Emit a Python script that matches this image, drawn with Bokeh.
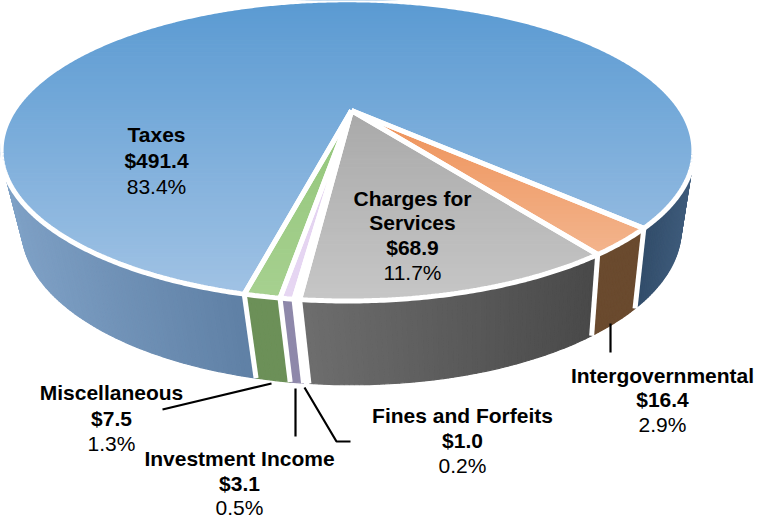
import numpy as np
from bokeh.plotting import figure
from bokeh.models import Range1d
from bokeh.core.properties import value
from bokeh.embed import file_html
from bokeh.resources import INLINE

categories = ["Intergovernmental", "Charges for Services", "Fines and Forfeits",
              "Investment Income", "Miscellaneous", "Taxes"]
amounts = ["$16.4", "$68.9", "$1.0", "$3.1", "$7.5", "$491.4"]
percents = [2.9, 11.7, 0.2, 0.5, 1.3, 83.4]

top_colors = [("#ee9158", "#f3b48c"), ("#a9a9a9", "#c6c6c6"), ("#ffffff", "#ffffff"),
              ("#e2d0f0", "#e6d6f2"), ("#93c67a", "#a6d08f"), ("#5a9ad2", "#a0c2e4")]
rim_colors = [("#6a4a2e", "#6a4a2e"), ("#494949", "#6e6e6e"), ("#ffffff", "#ffffff"),
              ("#8e88aa", "#8e88aa"), ("#6c9058", "#6c9058"), ("#5f80a5", "#7fa1c6")]
rim_right = ("#3f5c7c", "#314c69")

label_x = [662, 412, 462, 239, 111, 156]
label_y = [[375, 399, 424], [198, 222, 247, 272], [415, 440, 465],
           [458, 483, 507], [392, 418, 443], [134, 160, 186]]
label_lines = [["Intergovernmental"], ["Charges for", "Services"], ["Fines and Forfeits"],
               ["Investment Income"], ["Miscellaneous"], ["Taxes"]]
leader_x = [[610, 610], [162, 271], [295, 295], [304, 336, 350]]
leader_y = [[323, 352], [409, 383], [388, 436], [387, 441, 441]]

K = 0.265
START = 43.5
def proj(theta, f, g, ax, ay):
    t = np.radians(theta)
    w = 1 - K * np.sin(t)
    return ax + f * np.cos(t) / w, ay + g * np.sin(t) / w
def top(theta):
    return proj(theta, 334, 140, 347, 110)
def bottom(theta):
    return proj(theta - 0.4, 318, 145, 351, 187)

def hexmix(c1, c2, t):
    a = [int(c1[i:i + 2], 16) for i in (1, 3, 5)]
    b = [int(c2[i:i + 2], 16) for i in (1, 3, 5)]
    return "#%02x%02x%02x" % tuple(int(round(a[i] + (b[i] - a[i]) * t)) for i in range(3))

def clip(poly, y0, keep_below):
    out = []
    n = len(poly)
    for i in range(n):
        a, b = poly[i], poly[(i + 1) % n]
        ia = (a[1] >= y0) if keep_below else (a[1] <= y0)
        ib = (b[1] >= y0) if keep_below else (b[1] <= y0)
        if ia:
            out.append(a)
        if ia != ib:
            s = (y0 - a[1]) / (b[1] - a[1])
            out.append((a[0] + s * (b[0] - a[0]), y0))
    return out

p = figure(width=757, height=523, output_backend="svg", toolbar_location=None,
           x_range=Range1d(0, 757), y_range=Range1d(523, 0), min_border=0,
           outline_line_color=None)
p.axis.visible = False
p.grid.visible = False

fracs = np.cumsum([0] + percents) / sum(percents) * 360 + START
fracs[-1] = START + 360

for i in range(len(percents)):
    a0, a1 = fracs[i], fracs[i + 1]
    segs = [(max(a0, 16), min(a1, 164), rim_colors[i])]
    if i == len(percents) - 1:
        segs = [(a0, 164, rim_colors[i]), (376, a1, rim_right)]
    for s0, s1, cols in segs:
        if s1 <= s0:
            continue
        n = max(2, int((s1 - s0) * 1.5))
        ang = np.linspace(s0, s1, n + 1)
        xs, ys, cs = [], [], []
        xt0 = top(s0)[0]; xt1 = top(s1)[0]
        for j in range(n):
            tx0, ty0 = top(ang[j]); tx1, ty1 = top(ang[j + 1])
            bx0, by0 = bottom(ang[j]); bx1, by1 = bottom(ang[j + 1])
            xs.append([tx0, tx1, bx1, bx0]); ys.append([ty0, ty1, by1, by0])
            cs.append(hexmix(cols[0], cols[1], (tx0 - xt0) / (xt1 - xt0 + 1e-9)))
        p.patches(xs, ys, fill_color=cs, line_color=cs, line_width=1.2)
wx, wy = [], []
for a in fracs[:-1]:
    tx, ty = top(a); bx, by = bottom(a)
    wx.append([tx, bx]); wy.append([ty, by])
p.multi_line(wx, wy, line_color="white", line_width=5)

outlines_x, outlines_y = [], []
for i in reversed(range(len(percents))):
    ang = np.linspace(fracs[i], fracs[i + 1], max(3, int(fracs[i + 1] - fracs[i]) * 2))
    tx, ty = top(ang)
    px = [351] + list(tx); py = [110] + list(ty)
    poly = list(zip(px, py))
    ymin, ymax = min(py), max(py)
    nb = max(1, int((ymax - ymin) / 4))
    edges = np.linspace(ymin, ymax, nb + 1)
    xs, ys, cs = [], [], []
    for b in range(nb):
        c = clip(clip(poly, edges[b], True), edges[b + 1], False)
        if len(c) >= 3:
            xs.append([q[0] for q in c]); ys.append([q[1] for q in c])
            cs.append(hexmix(top_colors[i][0], top_colors[i][1], b / max(1, nb - 1)))
    p.patches(xs, ys, fill_color=cs, line_color=cs, line_width=1.2)
    outlines_x.append(px + [px[0]]); outlines_y.append(py + [py[0]])
p.multi_line(outlines_x, outlines_y, line_color="white", line_width=5)

p.multi_line(leader_x, leader_y, line_color="black", line_width=2.2)

for i in range(len(categories)):
    lines = label_lines[i]
    ys = label_y[i]
    bold = lines + [amounts[i]]
    p.text([label_x[i]] * len(bold), ys[:len(bold)], text=bold, text_font=value("Liberation Sans"),
           text_font_size="21px", text_font_style="bold", text_align="center",
           text_baseline="middle", text_color="black")
    p.text([label_x[i]], [ys[-1]], text=["%.1f%%" % percents[i]], text_font=value("Liberation Sans"),
           text_font_size="21px", text_align="center", text_baseline="middle", text_color="black")

open("out.html", "w").write(file_html(p, INLINE))
